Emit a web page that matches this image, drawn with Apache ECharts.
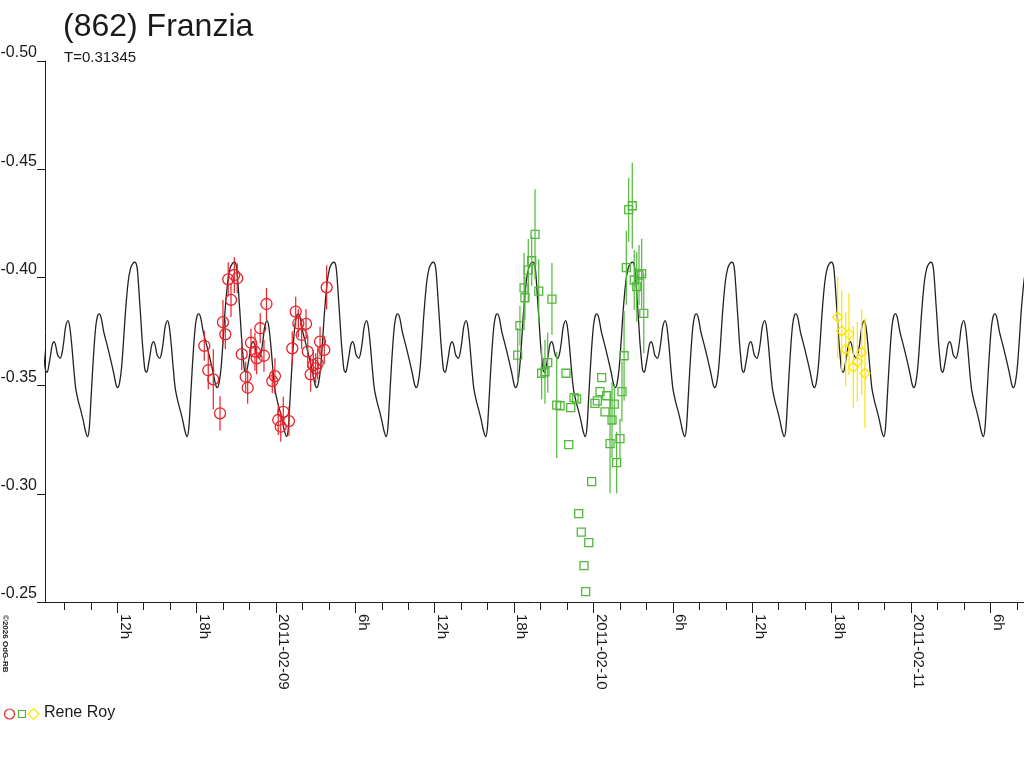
<!DOCTYPE html>
<html><head><meta charset="utf-8">
<script src="https://cdn.jsdelivr.net/npm/echarts@6/dist/echarts.min.js"></script>
<style>html,body{margin:0;padding:0;background:#fff}#c{width:1024px;height:768px}</style>
</head><body><div id="c"></div>
<script>
// time axis: hours after 2011-02-09 00:00 UT
const period = 7.5228;   // hours (T = 0.31345 d)
const epoch = 4.384;     // a maximum of the model curve
const curvePhase = [0.000,0.020,0.034,0.047,0.061,0.074,0.088,0.101,0.118,0.135,0.152,0.169,0.189,0.206,0.223,0.250,0.270,0.287,0.304,0.328,0.345,0.365,0.385,0.405,0.432,0.459,0.483,0.500,0.524,0.541,0.557,0.574,0.591,0.608,0.625,0.642,0.662,0.686,0.720,0.753,0.787,0.811,0.828,0.845,0.865,0.885,0.905,0.932,0.956,0.980];
const curveMag = [-0.4070,-0.4050,-0.3980,-0.3890,-0.3795,-0.3700,-0.3626,-0.3572,-0.3561,-0.3595,-0.3641,-0.3688,-0.3703,-0.3680,-0.3641,-0.3626,-0.3657,-0.3711,-0.3772,-0.3800,-0.3772,-0.3688,-0.3580,-0.3487,-0.3426,-0.3380,-0.3334,-0.3295,-0.3264,-0.3303,-0.3426,-0.3565,-0.3688,-0.3780,-0.3823,-0.3831,-0.3811,-0.3749,-0.3688,-0.3626,-0.3557,-0.3503,-0.3491,-0.3511,-0.3580,-0.3703,-0.3842,-0.3980,-0.4042,-0.4065];

const redTime = [-5.42,-5.12,-4.74,-4.23,-4.01,-3.83,-3.61,-3.40,-3.15,-2.93,-2.59,-2.29,-2.14,-1.89,-1.59,-1.46,-1.19,-0.91,-0.72,-0.28,-0.08,0.17,0.36,0.55,0.98,1.23,1.49,1.69,1.94,2.27,2.40,2.62,2.82,3.00,3.15,3.33,3.65,3.83];
const redMag = [-0.3684,-0.3571,-0.3529,-0.3372,-0.3793,-0.3737,-0.3991,-0.3896,-0.4011,-0.3996,-0.3645,-0.3541,-0.3490,-0.3698,-0.3657,-0.3626,-0.3765,-0.3638,-0.3877,-0.3521,-0.3544,-0.3341,-0.3310,-0.3379,-0.3336,-0.3672,-0.3842,-0.3788,-0.3734,-0.3785,-0.3657,-0.3552,-0.3595,-0.3580,-0.3603,-0.3703,-0.3665,-0.3954];
const redErr = [0.0069,0.0088,0.0139,0.0079,0.0102,0.0069,0.0079,0.0079,0.0083,0.0069,0.0074,0.0069,0.0074,0.0065,0.0088,0.0074,0.0069,0.0074,0.0074,0.0055,0.0083,0.0069,0.0069,0.0069,0.0069,0.0079,0.0069,0.0065,0.0065,0.0069,0.0074,0.0079,0.0069,0.0069,0.0074,0.0069,0.0065,0.0102];

const greenTime = [18.27,18.44,18.75,18.82,19.07,19.33,19.58,19.86,20.86,20.08,20.33,20.54,21.92,21.22,21.47,22.28,22.53,22.72,22.13,23.86,22.88,23.08,23.64,23.28,23.41,24.62,24.49,24.29,24.11,25.00,24.87,25.57,25.40,25.25,26.00,25.75,26.15,26.31,26.48,26.66,26.93,27.08,27.27,27.64,27.44,27.80];
const greenMag = [-0.3641,-0.3777,-0.3952,-0.3906,-0.4034,-0.4077,-0.4199,-0.3937,-0.3900,-0.3557,-0.3564,-0.3606,-0.3557,-0.3410,-0.3407,-0.3398,-0.3444,-0.3438,-0.3227,-0.3056,-0.2908,-0.2823,-0.2774,-0.2668,-0.2548,-0.3537,-0.3472,-0.3429,-0.3418,-0.3453,-0.3379,-0.3414,-0.3341,-0.3232,-0.3255,-0.3144,-0.3472,-0.3638,-0.4045,-0.4313,-0.4331,-0.3988,-0.3957,-0.4017,-0.4011,-0.3834];
const greenErr = [0.0125,0.0092,0.0162,0.0102,0.0143,0.0116,0.0208,0.0148,0.0166,0.0120,0.0148,0.0139,0,0.0245,0,0,0,0,0,0,0,0,0,0,0,0,0,0,0,0,0,0.0092,0.0176,0.0231,0.0092,0.0143,0.0139,0.0208,0.0171,0.0148,0.0199,0.0139,0.0162,0.0162,0.0139,0.0185];

const yellowTime = [42.46,42.76,43.06,43.31,43.64,43.94,44.27,44.52];
const yellowMag = [-0.3816,-0.3752,-0.3668,-0.3738,-0.3585,-0.3610,-0.3654,-0.3557];
const yellowErr = [0.0189,0.0189,0.0171,0.0189,0.0189,0.0185,0.0199,0.0254];

const xMin = -17.46, xMax = 56.54;
const minorTickHours = [-16,-14,-12,-10,-8,-6,-4,-2,0,2,4,6,8,10,12,14,16,18,20,22,24,26,28,30,32,34,36,38,40,42,44,46,48,50,52,54,56];
const labelHours = [-12,-6,0,6,12,18,24,30,36,42,48,54];
const labelTexts = ['12h','18h','2011-02-09','6h','12h','18h','2011-02-10','6h','12h','18h','2011-02-11','6h'];

const RED = '#e8232b', GREEN = '#52b83c', YELLOW = '#ffe600', INK = '#1a1a1a';

const curveData = [];
for (let k = -4; k <= 8; k++) {
  for (let i = 0; i < curvePhase.length; i++) {
    const t = epoch + (k + curvePhase[i]) * period;
    if (t >= xMin - 1.5 && t <= xMax + 1.5) curveData.push([t, curveMag[i]]);
  }
}

function errSeries(times, mags, errs, color) {
  const data = [];
  times.forEach((t, i) => { if (errs[i] > 0) data.push([t, mags[i] - errs[i], mags[i] + errs[i]]); });
  return {
    type: 'custom', data, encode: { x: 0, y: [1, 2] }, silent: true, z: 3, clip: true,
    renderItem: (params, api) => {
      const a = api.coord([api.value(0), api.value(1)]);
      const b = api.coord([api.value(0), api.value(2)]);
      return { type: 'line', shape: { x1: a[0], y1: a[1], x2: b[0], y2: b[1] }, style: { stroke: color, lineWidth: 1.2 } };
    }
  };
}
function ptSeries(times, mags, symbol, size, color) {
  return {
    type: 'scatter', data: times.map((t, i) => [t, mags[i]]), symbol, symbolSize: size, silent: true, z: 4,
    itemStyle: { color: 'rgba(0,0,0,0)', borderColor: color, borderWidth: 1.3, opacity: 1 },
    emphasis: { disabled: true }
  };
}

const chart = echarts.init(document.getElementById('c'), null, { renderer: 'canvas' });
chart.setOption({
  animation: false,
  backgroundColor: '#fff',
  textStyle: { fontFamily: 'Liberation Sans, Arial, sans-serif' },
  title: [
    { text: '(862) Franzia', left: 63, top: 11, padding: 0, textStyle: { fontSize: 32, fontWeight: 'normal', color: INK, fontFamily: 'Liberation Sans' } },
    { text: 'T=0.31345', left: 64, top: 50, padding: 0, textStyle: { fontSize: 15, fontWeight: 'normal', color: INK, fontFamily: 'Liberation Sans' } }
  ],
  grid: { left: 45, right: 0, top: 61, bottom: 166, containLabel: false, outerBoundsMode: 'none' },
  xAxis: [
    { type: 'value', min: xMin, max: xMax, position: 'bottom',
      axisLine: { show: true, onZero: false, lineStyle: { color: INK, width: 1 } },
      axisTick: { show: true, length: 8, customValues: minorTickHours, lineStyle: { color: INK } },
      axisLabel: { show: false }, splitLine: { show: false } },
    { type: 'value', min: xMin, max: xMax, position: 'bottom', offset: 0,
      axisLine: { show: false, onZero: false },
      axisTick: { show: true, length: 11, customValues: labelHours, lineStyle: { color: INK } },
      axisLabel: { show: true, customValues: labelHours, rotate: -90, margin: 12, fontSize: 15, color: INK,
        fontFamily: 'Liberation Sans', verticalAlign: 'bottom', align: 'left',
        formatter: v => { const i = labelHours.indexOf(Math.round(v)); return i >= 0 ? labelTexts[i] : ''; } },
      splitLine: { show: false } }
  ],
  yAxis: {
    type: 'value', inverse: true, min: -0.5, max: -0.25, interval: 0.05,
    axisLine: { show: true, onZero: false, lineStyle: { color: INK, width: 1 } },
    axisTick: { show: true, length: 8, lineStyle: { color: INK } },
    axisLabel: { formatter: v => v.toFixed(2), fontSize: 16, color: INK, margin: 8, verticalAlign: 'bottom', fontFamily: 'Liberation Sans' },
    splitLine: { show: false }
  },
  series: [
    { type: 'line', data: curveData, showSymbol: false, smooth: 0.3, silent: true, z: 2,
      lineStyle: { color: '#222', width: 1.3 } },
    errSeries(redTime, redMag, redErr, RED),
    errSeries(greenTime, greenMag, greenErr, GREEN),
    errSeries(yellowTime, yellowMag, yellowErr, YELLOW),
    ptSeries(redTime, redMag, 'circle', 11, RED),
    ptSeries(greenTime, greenMag, 'rect', 8, GREEN),
    ptSeries(yellowTime, yellowMag, 'diamond', 10, YELLOW)
  ],
  graphic: [
    { type: 'circle', shape: { cx: 9.5, cy: 714, r: 5 }, style: { fill: 'none', stroke: RED, lineWidth: 1.2 } },
    { type: 'rect', shape: { x: 18.5, y: 710.5, width: 7, height: 7 }, style: { fill: 'none', stroke: GREEN, lineWidth: 1.2 } },
    { type: 'polygon', shape: { points: [[33.5, 708.5], [39, 714], [33.5, 719.5], [28, 714]] }, style: { fill: 'none', stroke: YELLOW, lineWidth: 1.2 } },
    { type: 'text', x: 44, y: 713, style: { text: 'Rene Roy', font: '16px "Liberation Sans"', fill: INK, textVerticalAlign: 'middle' } },
    { type: 'text', x: 1, y: 615, rotation: -Math.PI / 2, style: { text: '©2026 OdG-RB', font: 'bold 8px "Liberation Sans"', fill: INK, textAlign: 'left', textVerticalAlign: 'bottom' } }
  ]
});
</script></body></html>
